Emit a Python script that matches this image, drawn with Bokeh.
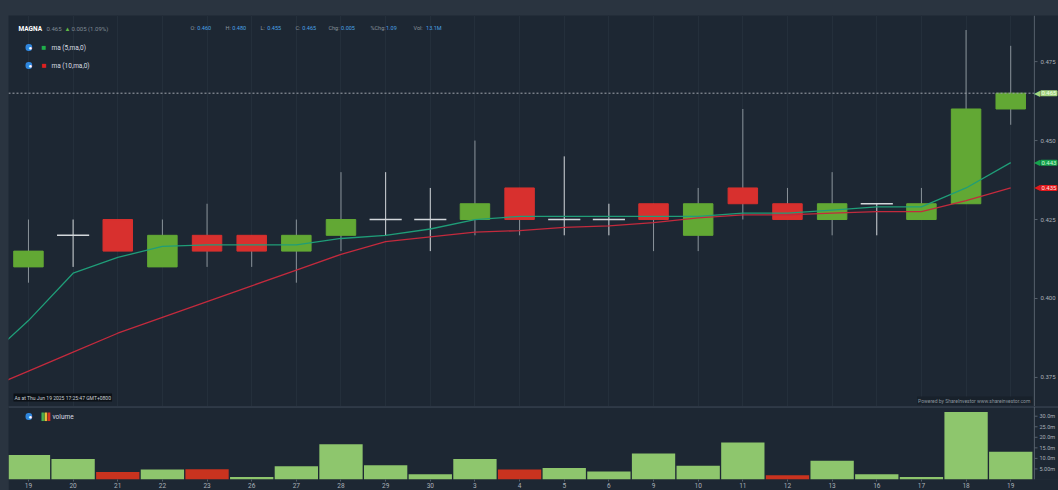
from bokeh.plotting import figure
from bokeh.layouts import column
from bokeh.models import (Range1d, FixedTicker, Label, Span, ColumnDataSource, Grid,
                          NumeralTickFormatter, GlobalInlineStyleSheet)
from bokeh.embed import file_html
from bokeh.resources import INLINE

# ---------------- data ----------------
dates = ["19", "20", "21", "22", "23", "26", "27", "28", "29", "30", "3", "4",
         "5", "6", "9", "10", "11", "12", "13", "16", "17", "18", "19"]
opens = [0.410, 0.420, 0.425, 0.410, 0.420, 0.420, 0.415, 0.420, 0.425, 0.425, 0.425, 0.435,
         0.425, 0.425, 0.430, 0.420, 0.435, 0.430, 0.425, 0.430, 0.425, 0.430, 0.460]
highs = [0.425, 0.425, 0.425, 0.425, 0.430, 0.420, 0.425, 0.440, 0.440, 0.435, 0.450, 0.435,
         0.445, 0.430, 0.430, 0.435, 0.460, 0.435, 0.440, 0.430, 0.435, 0.485, 0.480]
lows = [0.405, 0.410, 0.415, 0.410, 0.410, 0.410, 0.405, 0.415, 0.420, 0.415, 0.420, 0.420,
        0.420, 0.420, 0.415, 0.415, 0.425, 0.425, 0.420, 0.420, 0.425, 0.430, 0.455]
closes = [0.415, 0.420, 0.415, 0.420, 0.415, 0.415, 0.420, 0.425, 0.425, 0.425, 0.430, 0.425,
          0.425, 0.425, 0.425, 0.430, 0.430, 0.425, 0.430, 0.430, 0.430, 0.460, 0.465]
volume_m = [11.6, 9.7, 3.6, 4.7, 4.9, 1.2, 6.3, 16.7, 6.8, 2.5, 9.7, 4.7,
            5.4, 3.8, 12.3, 6.5, 17.5, 2.0, 8.9, 2.5, 1.2, 32.0, 13.1]
# moving averages (first value belongs to the session before the visible window)
ma_x = list(range(-1, 23))
ma5 = [0.380, 0.393, 0.408, 0.413, 0.4165, 0.417, 0.417, 0.417, 0.419, 0.420, 0.422, 0.425,
       0.426, 0.426, 0.426, 0.426, 0.426, 0.427, 0.427, 0.428, 0.429, 0.429, 0.435, 0.443]
ma10 = [0.371, 0.377, 0.383, 0.389, 0.394, 0.399, 0.404, 0.409, 0.414, 0.418, 0.4195, 0.421,
        0.4215, 0.4225, 0.423, 0.424, 0.4255, 0.4265, 0.4265, 0.427, 0.4275, 0.4275, 0.431, 0.435]
price_ticks = [0.375, 0.400, 0.425, 0.450, 0.475]
vol_ticks = [5, 10, 15, 20, 25, 30]
vol_tick_labels = ["5.00m", "10.0m", "15.0m", "20.0m", "25.0m", "30.0m"]

# ---------------- style ----------------
BG = "#1d2733"
PAGE = "#2a3440"
FONT = "Roboto"
GREEN = "#62a834"
RED = "#d8302e"
DOJI = "#d3d7db"
WICK = "#8a939a"
VGREEN = "#8ec66d"
VRED = "#c9331f"
AXIS = "#56606b"
TXT = "#aab1b9"
X_START = -0.447
X_END = 23.07        # frame spans the whole width; the price scale sits inside it
X_AXIS = 22.53       # where the scale line is drawn

n = len(dates)
idx = list(range(n))

up = [i for i in idx if closes[i] > opens[i]]
dn = [i for i in idx if closes[i] < opens[i]]
dj = [i for i in idx if closes[i] == opens[i]]


def style_axis(ax, size, standoff):
    ax.major_label_text_font = FONT
    ax.major_label_text_font_size = size
    ax.major_label_text_color = TXT
    ax.axis_line_color = None
    ax.major_tick_line_color = None
    ax.major_tick_out = 0
    ax.major_tick_in = 0
    ax.minor_tick_line_color = None
    ax.major_label_standoff = standoff


p = figure(width=1050, height=391, x_range=Range1d(X_START, X_END), y_range=Range1d(0.3658, 0.4896),
           x_axis_location=None, y_axis_location="right", output_backend="svg",
           toolbar_location=None, background_fill_color=BG, border_fill_color=BG,
           outline_line_color=None, min_border_left=0, min_border_top=0,
           min_border_bottom=0, min_border_right=0)
p.grid.grid_line_color = None
p.add_layout(Grid(dimension=0, ticker=FixedTicker(ticks=idx), grid_line_color="#242f3b"))

ya = p.yaxis[0]
ya.ticker = FixedTicker(ticks=price_ticks)
ya.formatter = NumeralTickFormatter(format="0.000")
style_axis(ya, "6px", -18)

# scale line + tick marks
p.add_layout(Span(location=X_AXIS, dimension="height", line_color=AXIS, line_width=1))
p.segment(x0=[X_AXIS] * len(price_ticks), x1=[X_AXIS + 0.07] * len(price_ticks),
          y0=price_ticks, y1=price_ticks, line_color=AXIS, line_width=1)

# wicks
wick_colors = [DOJI if closes[i] == opens[i] else WICK for i in idx]
p.segment(x0=idx, y0=lows, x1=idx, y1=highs, line_color=wick_colors, line_width=1)

# bodies
src_up = ColumnDataSource(dict(x=up, b=[opens[i] for i in up], t=[closes[i] for i in up]))
src_dn = ColumnDataSource(dict(x=dn, b=[closes[i] for i in dn], t=[opens[i] for i in dn]))
p.vbar(x="x", width=0.66, bottom="b", top="t", source=src_up, fill_color=GREEN, line_color=GREEN)
p.vbar(x="x", width=0.66, bottom="b", top="t", source=src_dn, fill_color=RED, line_color=RED)
p.segment(x0=[i - 0.36 for i in dj], x1=[i + 0.36 for i in dj],
          y0=[closes[i] for i in dj], y1=[closes[i] for i in dj], line_color=DOJI, line_width=1.5)

# moving averages
p.line(ma_x, ma5, line_color="#1f9d78", line_width=1.3)
p.line(ma_x, ma10, line_color="#c32a3d", line_width=1.3)

# last price line
p.segment(x0=[X_START], x1=[X_AXIS], y0=[closes[-1]], y1=[closes[-1]], line_color="#a0a6ad",
          line_dash="2 2", line_width=1)


def lab(fig, x, y, text, size="6.5px", color=TXT, **kw):
    fig.add_layout(Label(x=x, y=y, x_units=kw.pop("x_units", "screen"),
                         y_units=kw.pop("y_units", "screen"), text=text,
                         text_font=FONT, text_font_size=size, text_color=color,
                         text_baseline=kw.pop("text_baseline", "middle"), **kw))


# right tags
for val, bg, fg in [(closes[-1], "#a3d47e", "#f2fbea"), (ma5[-1], "#16a34d", "#c9f5d6"),
                    (ma10[-1], "#e3191c", "#ffe0e0")]:
    lab(p, X_AXIS, val, "\u25c0", size="8px", color=bg, x_units="data", y_units="data", x_offset=0)
    lab(p, X_AXIS, val, f"{val:.3f}", size="6px", color=fg, x_units="data", y_units="data",
        x_offset=6, background_fill_color=bg, padding=1, border_radius=1)

# header
lab(p, 10, 378, "MAGNA", size="6.5px", color="#ffffff", text_font_style="bold")
lab(p, 38, 378, "0.465", size="6px", color="#7f8993")
lab(p, 56, 378, "\u25b2", size="6px", color="#5fb845")
lab(p, 63, 378, "0.005 (1.09%)", size="6px", color="#7f8993")
info = [("O:", "0.460", 182), ("H:", "0.480", 217), ("L:", "0.455", 252), ("C:", "0.465", 287),
        ("Chg:", "0.005", 320), ("%Chg:", "1.09", 362), ("Vol:", "13.1M", 405)]
for pre, val, x in info:
    w = 2.9 * len(pre) + 1
    lab(p, x, 379, pre, size="5.5px", color="#8a939c")
    lab(p, x + w, 379, val, size="5.5px", color="#4aa2e6")

# legend rows
for sy, col, name in [(359, "#1fae4b", "ma (5,ma,0)"), (341, "#e0201e", "ma (10,ma,0)")]:
    lab(p, 17, sy, "\u2002\u25cf", size="6px", color="#ffffff",
        background_fill_color="#2f86de", border_radius=3, padding=0)
    lab(p, 33, sy, "\u25a0", size="8px", color=col)
    lab(p, 43, sy, name, size="6.5px", color="#d8dde2")

# footers
lab(p, 5, 9, "As at Thu Jun 19 2025 17:25:47 GMT+0800", size="5px", color="#c9ced3",
    background_fill_color="#0c1117", padding=1)
lab(p, 1024, 6, "Powered by ShareInvestor  www.shareinvestor.com", size="5px",
    color="#8c959e", text_align="right", background_fill_color="#18212b", padding=1)

# ---------------- volume pane ----------------
v = figure(width=1050, height=84, x_range=p.x_range, y_range=Range1d(0, 34.6),
           y_axis_location="right", output_backend="svg", toolbar_location=None,
           background_fill_color=BG, border_fill_color=BG, outline_line_color=None,
           min_border_left=0, min_border_top=0, min_border_bottom=0, min_border_right=0)
v.grid.grid_line_color = None
vcolors = [VGREEN if (i == 0 or closes[i] >= closes[i - 1]) else VRED for i in idx]
v.vbar(x=idx, width=0.97, bottom=0, top=volume_m, fill_color=vcolors, line_color=None)
v.add_layout(Span(location=34.4, dimension="width", line_color="#4a5563", line_width=1))
v.add_layout(Span(location=X_AXIS, dimension="height", line_color=AXIS, line_width=1))
v.segment(x0=[X_AXIS] * len(vol_ticks), x1=[X_AXIS + 0.07] * len(vol_ticks),
          y0=vol_ticks, y1=vol_ticks, line_color=AXIS, line_width=1)

va = v.yaxis[0]
va.ticker = FixedTicker(ticks=vol_ticks)
va.major_label_overrides = {t: s for t, s in zip(vol_ticks, vol_tick_labels)}
style_axis(va, "5.5px", -19)

xa = v.xaxis[0]
xa.ticker = FixedTicker(ticks=idx)
xa.major_label_overrides = {i: d for i, d in enumerate(dates)}
xa.major_label_text_font = FONT
xa.major_label_text_font_size = "6.5px"
xa.major_label_text_color = TXT
xa.axis_line_color = None
xa.major_tick_line_color = AXIS
xa.major_tick_out = 2
xa.major_tick_in = 0
xa.minor_tick_line_color = None
xa.major_label_standoff = 1

lab(v, 17, 63, "\u2002\u25cf", size="6px", color="#ffffff",
    background_fill_color="#2f86de", border_radius=3, padding=0)
lab(v, 33, 63, "\u258c", size="7px", color="#4caf50")
lab(v, 36, 63, "\u258c", size="7px", color="#e4c23a")
lab(v, 39, 63, "\u258c", size="7px", color="#d5361f")
lab(v, 44, 63, "volume", size="6.5px", color="#d8dde2")

css = GlobalInlineStyleSheet(css="html, body { background-color: %s !important; overflow: hidden !important; }" % PAGE)
layout = column(p, v, margin=(15, 0, 0, 8), stylesheets=[css])

open("out.html", "w").write(file_html(layout, INLINE))
